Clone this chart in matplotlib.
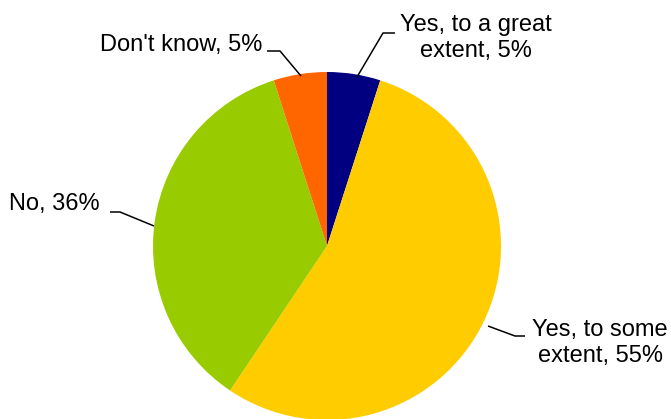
import matplotlib
matplotlib.use("Agg")
import matplotlib.pyplot as plt

## data
labels = ["Yes, to a great\nextent, 5%", "Yes, to some\nextent, 55%", "No, 36%", "Don't know, 5%"]
values = [5, 55, 36, 5]
colors = ["#000080", "#FFCC00", "#99CC00", "#FF6600"]

plt.rcParams["font.family"] = ["Liberation Sans", "DejaVu Sans"]

fig = plt.figure(figsize=(6.71, 4.19), dpi=100)
ax = fig.add_axes([0, 0, 1, 1])

# y axis is flipped below, so counterclock=True draws clockwise on screen
ax.pie(values, colors=colors, startangle=-90, counterclock=True,
       center=(327, 246), radius=174,
       wedgeprops=dict(linewidth=0))
ax.set_xlim(0, 671)
ax.set_ylim(419, 0)
ax.set_aspect("equal")
ax.axis("off")

## label positions and leader lines (pixel coords)
label_pos = [(476, 38, "center"), (600, 343, "center"), (100, 204, "right"), (262, 45, "right")]
leaders = [
    [(395, 33), (383, 33), (357, 77)],
    [(525, 336), (515, 336), (488, 326)],
    [(110, 212), (120, 212), (154, 226)],
    [(267, 51), (280, 51), (301, 76)],
]

for lab, (x, y, ha), pts in zip(labels, label_pos, leaders):
    ax.text(x, y, lab, ha=ha, va="center", fontsize=17, linespacing=1.25, color="black")
    xs = [p[0] for p in pts]
    ys = [p[1] for p in pts]
    ax.plot(xs, ys, color="black", linewidth=1.1, solid_capstyle="butt")

plt.savefig("out.png", dpi=100)
